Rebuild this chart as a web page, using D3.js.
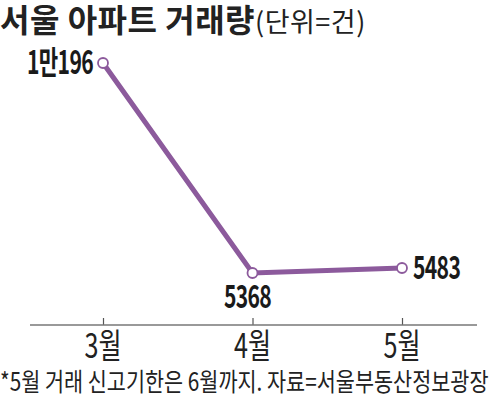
<!DOCTYPE html>
<html>
<head>
<meta charset="utf-8">
<script src="https://cdn.jsdelivr.net/npm/d3@7"></script>
<style>
  body { margin: 0; background: #fff; }
  svg { display: block; }
</style>
</head>
<body>
<div id="chart"></div>
<script>
// data
const months = ['3월', '4월', '5월'];
const deals = [10196, 5368, 5483];
const dealLabels = ['1만196', '5368', '5483'];

const width = 500, height = 399;
const purple = '#8c5a9c';

const svg = d3.select('#chart').append('svg')
  .attr('width', width)
  .attr('height', height);

// x: month positions
const x = d3.scalePoint()
  .domain(months)
  .range([103, 402]);

// y: volume
const y = d3.scaleLinear()
  .domain([5368, 10196])
  .range([273, 63]);

// title
const title = svg.append('text')
  .attr('x', 0)
  .attr('y', 32)
  .style('font-family', "'Noto Sans CJK KR'")
  .style('fill', '#222');
title.append('tspan')
  .style('font-size', '32px')
  .style('font-weight', 'bold')
  .attr('letter-spacing', 0.5)
  .text('서울 아파트 거래량');
title.append('tspan')
  .style('font-size', '27px')
  .attr('letter-spacing', 0.5)
  .text('(단위=건)');

// x axis
const axisY = 325;
const xAxis = svg.append('g')
  .attr('transform', `translate(0,${axisY})`)
  .call(d3.axisTop(x).tickSize(7).tickFormat(''));
xAxis.select('.domain').remove();
xAxis.selectAll('line').attr('stroke', '#555').attr('stroke-width', 1.2);
svg.append('line')
  .attr('x1', 30).attr('x2', 477)
  .attr('y1', axisY).attr('y2', axisY)
  .attr('stroke', '#777')
  .attr('stroke-width', 1.5);

// month labels (condensed)
svg.selectAll('.month')
  .data(months)
  .enter()
  .append('text')
  .attr('class', 'month')
  .attr('transform', d => `translate(${x(d)},${axisY + 33}) scale(0.74,1)`)
  .attr('text-anchor', 'middle')
  .style('font-family', "'Noto Sans CJK KR'")
  .style('font-size', '34px')
  .style('fill', '#222')
  .text(d => d);

// line
const line = d3.line()
  .x((d, i) => x(months[i]))
  .y(d => y(d));

svg.append('path')
  .datum(deals)
  .attr('d', line)
  .attr('fill', 'none')
  .attr('stroke', purple)
  .attr('stroke-width', 5);

svg.selectAll('.dot')
  .data(deals)
  .enter()
  .append('circle')
  .attr('class', 'dot')
  .attr('cx', (d, i) => x(months[i]))
  .attr('cy', d => y(d))
  .attr('r', 5)
  .attr('fill', '#fff')
  .attr('stroke', purple)
  .attr('stroke-width', 1.8);

// value labels: left, below, right
const labelPos = [
  { dx: -10, dy: 11, anchor: 'end' },
  { dx: -5, dy: 35, anchor: 'middle' },
  { dx: 11, dy: 11, anchor: 'start' }
];
svg.selectAll('.val')
  .data(deals)
  .enter()
  .append('text')
  .attr('class', 'val')
  .attr('transform', (d, i) => `translate(${x(months[i]) + labelPos[i].dx},${y(d) + labelPos[i].dy}) scale(0.66,1)`)
  .attr('text-anchor', (d, i) => labelPos[i].anchor)
  .style('font-family', "'Noto Sans CJK KR'")
  .style('font-size', '32px')
  .style('font-weight', 'bold')
  .attr('letter-spacing', -1)
  .style('fill', '#1a1a1a')
  .text((d, i) => dealLabels[i]);

// footnote
svg.append('text')
  .attr('transform', 'translate(0,391) scale(0.83,1)')
  .style('font-family', "'Noto Sans CJK KR'")
  .style('font-size', '25px')
  .style('fill', '#222')
  .text('*5월 거래 신고기한은 6월까지. 자료=서울부동산정보광장');
</script>
</body>
</html>
